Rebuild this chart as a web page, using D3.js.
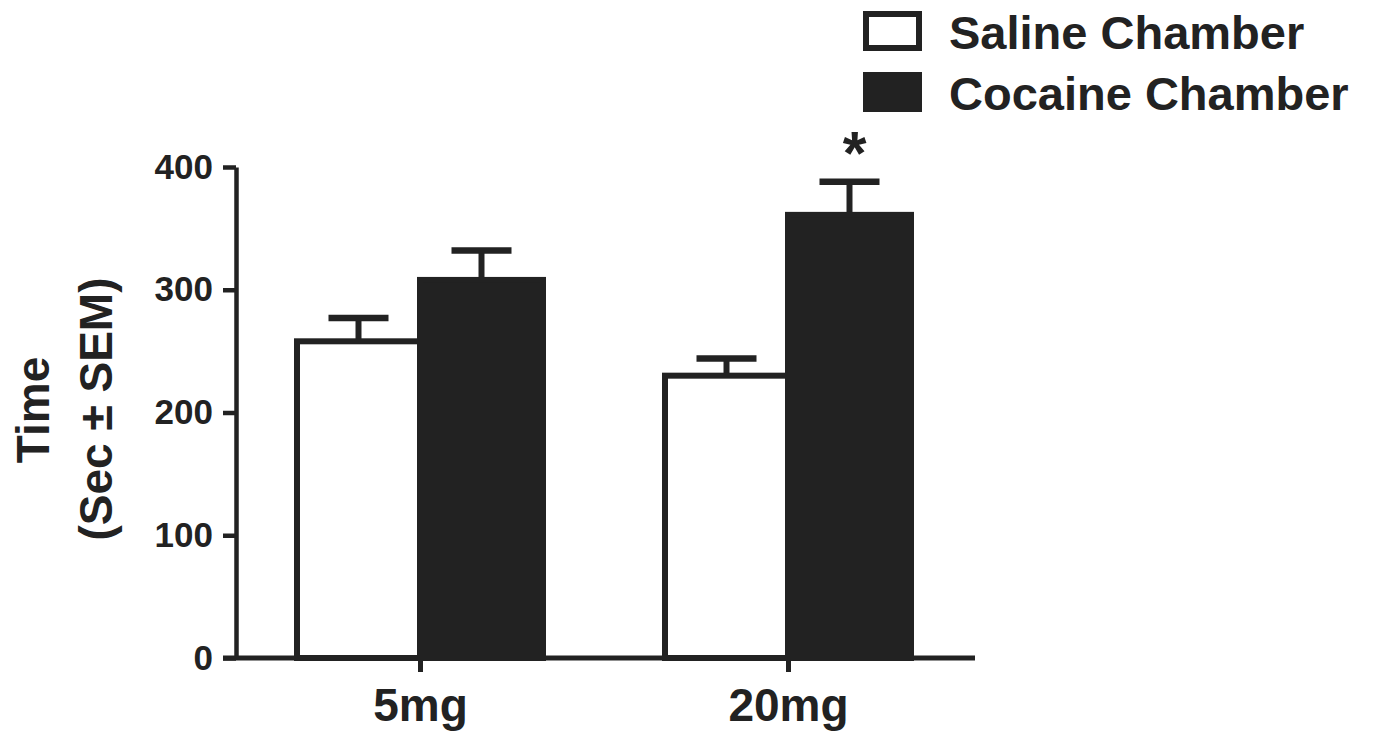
<!DOCTYPE html>
<html>
<head>
<meta charset="utf-8">
<script src="https://cdn.jsdelivr.net/npm/d3@7"></script>
<style>
    body { margin: 0; background: #fff; }
    text { font-family: "Liberation Sans", Arial, Helvetica, sans-serif; font-weight: bold; fill: #222; }
</style>
</head>
<body>
<div id="chart"></div>
<script>
// chart values
var doses = ['5mg', '20mg'];
var chambers = ['Saline Chamber', 'Cocaine Chamber'];
var salineMeans = [258, 230];
var salineSem = [19, 14];
var cocaineMeans = [308, 361];
var cocaineSem = [24, 27];
var sigMarks = ['', '*'];
var yTicks = [0, 100, 200, 300, 400];

// svg area
var svgWidth = 1378;
var svgHeight = 735;
var ink = '#222';

var svg = d3.select('#chart')
    .append('svg')
    .attr('width', svgWidth)
    .attr('height', svgHeight);

// scales
var axisX = 236;
var xEnd = 975;
var yLinearScale = d3.scaleLinear()
    .domain([0, 400])
    .range([658, 167]);

var xPointScale = d3.scalePoint()
    .domain(doses)
    .range([axisX, 972])
    .padding(0.5);

var barWidth = 123;
var capHalf = 30;

// rows for each bar
var bars = [];
doses.forEach( (d, i) => {
    bars.push({ dose: d, kind: 'saline', mean: salineMeans[i], sem: salineSem[i], x0: xPointScale(d) - barWidth, sig: '' });
    bars.push({ dose: d, kind: 'cocaine', mean: cocaineMeans[i], sem: cocaineSem[i], x0: xPointScale(d), sig: sigMarks[i] });
});

// error bars (upper only)
var errGroup = svg.append('g');
errGroup.selectAll('line.stem')
    .data(bars)
    .enter()
    .append('line')
    .attr('x1', d => d.x0 + barWidth / 2)
    .attr('x2', d => d.x0 + barWidth / 2)
    .attr('y1', d => yLinearScale(d.mean))
    .attr('y2', d => yLinearScale(d.mean + d.sem))
    .attr('stroke', ink)
    .attr('stroke-width', 6);

errGroup.selectAll('line.cap')
    .data(bars)
    .enter()
    .append('line')
    .attr('x1', d => d.x0 + barWidth / 2 - capHalf)
    .attr('x2', d => d.x0 + barWidth / 2 + capHalf)
    .attr('y1', d => yLinearScale(d.mean + d.sem))
    .attr('y2', d => yLinearScale(d.mean + d.sem))
    .attr('stroke', ink)
    .attr('stroke-width', 6.5);

// bars
svg.append('g')
    .selectAll('rect')
    .data(bars)
    .enter()
    .append('rect')
    .attr('x', d => d.x0)
    .attr('y', d => yLinearScale(d.mean))
    .attr('width', barWidth)
    .attr('height', d => yLinearScale(0) - yLinearScale(d.mean))
    .attr('fill', d => d.kind === 'saline' ? '#fff' : ink)
    .attr('stroke', ink)
    .attr('stroke-width', 6);

// significance marks
svg.append('g')
    .selectAll('text')
    .data(bars.filter(d => d.sig))
    .enter()
    .append('text')
    .attr('x', d => d.x0 + barWidth / 2 + 5)
    .attr('y', d => yLinearScale(d.mean + d.sem) - 8)
    .attr('text-anchor', 'middle')
    .style('font-size', '61px')
    .text(d => d.sig);

// left axis
var leftAxis = d3.axisLeft(yLinearScale)
    .tickValues(yTicks)
    .tickSize(13)
    .tickSizeOuter(0)
    .tickPadding(10);

var yAxisG = svg.append('g')
    .attr('transform', `translate(${axisX}, 0)`)
    .call(leftAxis);
yAxisG.selectAll('path, line')
    .attr('stroke', ink)
    .attr('stroke-width', 4.5);
yAxisG.selectAll('text')
    .attr('fill', ink)
    .style('font-family', '"Liberation Sans", Arial, sans-serif')
    .style('font-weight', 'bold')
    .style('font-size', '35px');

// bottom axis
var bottomAxis = d3.axisBottom(xPointScale)
    .tickSize(14)
    .tickSizeOuter(0);

var xAxisG = svg.append('g')
    .attr('transform', `translate(0, ${yLinearScale(0)})`)
    .call(bottomAxis);
xAxisG.select('.domain').remove();
xAxisG.append('line')
    .attr('x1', axisX - 13)
    .attr('x2', xEnd)
    .attr('stroke', ink)
    .attr('stroke-width', 5);
xAxisG.selectAll('.tick line')
    .attr('stroke', ink)
    .attr('stroke-width', 5);
xAxisG.selectAll('.tick text')
    .attr('y', 63)
    .attr('dy', 0)
    .attr('fill', ink)
    .style('font-family', '"Liberation Sans", Arial, sans-serif')
    .style('font-weight', 'bold')
    .style('font-size', '46px');

// y axis title
svg.append('text')
    .attr('transform', 'translate(49, 410) rotate(-90)')
    .attr('text-anchor', 'middle')
    .style('font-size', '46px')
    .text('Time');
svg.append('text')
    .attr('transform', 'translate(112, 409) rotate(-90)')
    .attr('text-anchor', 'middle')
    .style('font-size', '46px')
    .text('(Sec \u00B1 SEM)');

// legend
var legend = svg.append('g')
    .selectAll('g')
    .data(chambers)
    .enter()
    .append('g')
    .attr('transform', (d, i) => `translate(0, ${i * 61})`);

legend.append('rect')
    .attr('x', 866)
    .attr('y', 14)
    .attr('width', 53)
    .attr('height', 34)
    .attr('fill', (d, i) => i === 0 ? '#fff' : ink)
    .attr('stroke', ink)
    .attr('stroke-width', 6);

legend.append('text')
    .attr('x', 949)
    .attr('y', 49)
    .style('font-size', '47px')
    .text(d => d);
</script>
</body>
</html>
